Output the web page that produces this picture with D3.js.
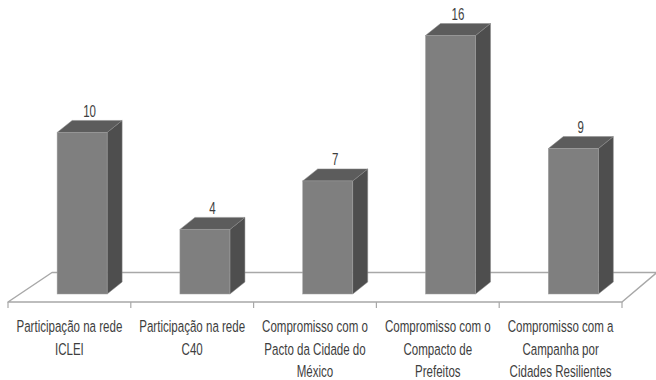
<!DOCTYPE html>
<html>
<head>
<meta charset="utf-8">
<script src="https://cdn.jsdelivr.net/npm/d3@7"></script>
<style>
  html, body { margin: 0; padding: 0; background: #fff; }
  svg { display: block; }
  text { font-family: "Liberation Sans", Arial, sans-serif; fill: #3e3e3e; }
</style>
</head>
<body>
<svg id="chart" width="656" height="380"></svg>
<script>
// Commitments and networks joined by the cities
const categories = [
  "Participação na rede ICLEI",
  "Participação na rede C40",
  "Compromisso com o Pacto da Cidade do México",
  "Compromisso com o Compacto de Prefeitos",
  "Compromisso com a Campanha por Cidades Resilientes"
];
const values = [10, 4, 7, 16, 9];
const labelLines = [
  ["Participação na rede", "ICLEI"],
  ["Participação na rede", "C40"],
  ["Compromisso com o", "Pacto da Cidade do", "México"],
  ["Compromisso com o", "Compacto de", "Prefeitos"],
  ["Compromisso com a", "Campanha por", "Cidades Resilientes"]
];

const svg = d3.select("#chart");

// Floor geometry (front edge of the 3D floor and its receding depth)
const floorFront = 302, floorBack = 272.5;
const floorLeft = 8, floorRight = 622;
const backLeft = 52, backRight = 657;

const x = d3.scaleBand().domain(categories).range([floorLeft, floorRight]).padding(0);
const y = d3.scaleLinear().domain([0, 16]).range([294, 35.5]);

// bar box dimensions
const barOffset = x.bandwidth() * 0.4;
const barW = 50;
const depthX = 15, depthY = 12;

// condensed lettering: regular sans squeezed horizontally
const squeeze = 0.68;

// floor
svg.append("path")
  .attr("d", `M${floorLeft},${floorFront} L${backLeft},${floorBack} L${backRight},${floorBack} L${floorRight},${floorFront} Z`)
  .attr("fill", "#fff")
  .attr("stroke", "#a8a8a8")
  .attr("stroke-width", 1.5)
  .attr("stroke-linejoin", "round");

// category ticks on the front edge
const tickPos = categories.map(c => x(c)).concat([floorRight]);
svg.append("g").selectAll("line")
  .data(tickPos)
  .join("line")
  .attr("x1", d => d).attr("x2", d => d)
  .attr("y1", floorFront).attr("y2", floorFront + 6)
  .attr("stroke", "#a8a8a8")
  .attr("stroke-width", 1.2);

// 3D bars
const bars = svg.append("g").selectAll("g")
  .data(categories.map((c, i) => ({ c, v: values[i] })))
  .join("g");

bars.each(function(d) {
  const g = d3.select(this);
  const x0 = x(d.c) + barOffset, x1 = x0 + barW;
  const y0 = y(0), yt = y(d.v);
  // side face
  g.append("path")
    .attr("d", `M${x1},${y0} L${x1 + depthX},${y0 - depthY} L${x1 + depthX},${yt - depthY} L${x1},${yt} Z`)
    .attr("fill", "#4e4e4e").attr("stroke", "#8a8a8a").attr("stroke-width", 0.5);
  // top face
  g.append("path")
    .attr("d", `M${x0},${yt} L${x0 + depthX},${yt - depthY} L${x1 + depthX},${yt - depthY} L${x1},${yt} Z`)
    .attr("fill", "#5c5c5c").attr("stroke", "#8a8a8a").attr("stroke-width", 0.5);
  // front face
  g.append("rect")
    .attr("x", x0).attr("y", yt)
    .attr("width", barW).attr("height", y0 - yt)
    .attr("fill", "#7f7f7f").attr("stroke", "#a0a0a0").attr("stroke-width", 0.5);
  // value label
  g.append("text")
    .attr("transform", `translate(${x0 + barW / 2 + depthX / 2},${yt - depthY - 3.5}) scale(0.72,1)`)
    .attr("text-anchor", "middle")
    .attr("font-size", 16)
    .text(d.v);
});

// category labels
const labels = svg.append("g").selectAll("text")
  .data(categories.map((c, i) => ({ c, lines: labelLines[i] })))
  .join("text")
  .attr("text-anchor", "middle")
  .attr("font-size", 17)
  .attr("transform", d => `translate(${x(d.c) + x.bandwidth() / 2},0) scale(${squeeze},1)`);

labels.selectAll("tspan")
  .data(d => d.lines)
  .join("tspan")
  .attr("x", 0)
  .attr("y", (d, i) => 332.5 + i * 22.5)
  .text(d => d);
</script>
</body>
</html>
